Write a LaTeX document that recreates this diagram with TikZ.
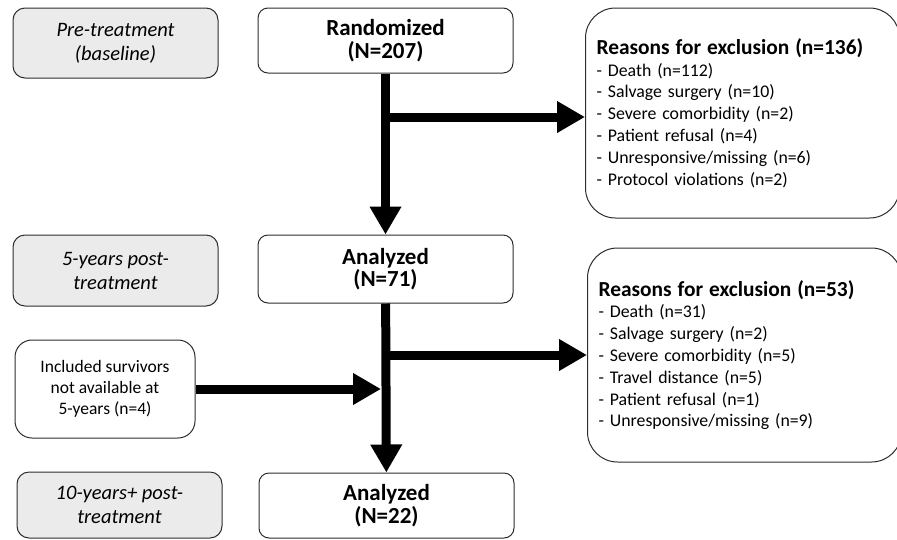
\documentclass[tikz,border=0pt]{standalone}
\usepackage{fontspec}
\setmainfont{Carlito}
\usetikzlibrary{arrows.meta}
\definecolor{phasegray}{RGB}{235,235,235}
\definecolor{boxline}{RGB}{45,45,45}

\begin{document}
\begin{tikzpicture}[
    x=1pt, y=-1pt,
    box/.style={draw=boxline, line width=1pt, align=center, inner sep=0pt},
    phase/.style={box, fill=phasegray, rounded corners=12pt, minimum width=205pt,
        font=\itshape\fontsize{20.5}{24}\selectfont},
    stage/.style={box, fill=white, rounded corners=10pt, minimum width=255pt,
        font=\bfseries\fontsize{23}{22.5}\selectfont},
    reasons/.style={box, rounded corners=30pt, align=left, text width=292pt,
        inner xsep=11pt, font=\fontsize{17.8}{21.8}\selectfont},
    flow/.style={line width=9pt, -{Triangle[width=30pt, length=28pt]}}
]

    \clip (0,0) rectangle (897,539);

    % Phases (left column)
    \node[phase, minimum height=70pt] (pre)  at (115.5, 43)  {Pre-treatment\\(baseline)};
    \node[phase, minimum height=71pt] (five) at (115.5, 270.5) {5-years post-\\treatment};
    \node[phase, minimum height=66pt] (ten)  at (119.5, 505) {10-years+ post-\\treatment};

    % Stages (middle column)
    \node[stage, minimum height=65pt] (rand) at (385.5, 40.5) {Randomized\\(N=207)};
    \node[stage, minimum height=68pt] (ana1) at (385.5, 269)  {Analyzed\\(N=71)};
    \node[stage, minimum height=65pt] (ana2) at (386.5, 505.5) {Analyzed\\(N=22)};

    % Extra survivors
    \node[box, rounded corners=17pt, minimum width=180pt, minimum height=98pt,
          font=\fontsize{17.5}{21}\selectfont] (surv) at (105, 389)
          {Included survivors\\not available at\\5-years (n=4)};

    % Exclusions (right column)
    \node[reasons, minimum height=210pt, anchor=west] (excl1) at (585, 113) {%
        {\bfseries\fontsize{21.4}{23}\selectfont Reasons for exclusion (n=136)}\\
        - Death (n=112)\\
        - Salvage surgery (n=10)\\
        - Severe comorbidity (n=2)\\
        - Patient refusal (n=4)\\
        - Unresponsive/missing (n=6)\\
        - Protocol violations (n=2)};
    \node[reasons, minimum height=214pt, anchor=west] (excl2) at (587, 355) {%
        {\bfseries\fontsize{21.4}{23}\selectfont Reasons for exclusion (n=53)}\\
        - Death (n=31)\\
        - Salvage surgery (n=2)\\
        - Severe comorbidity (n=5)\\
        - Travel distance (n=5)\\
        - Patient refusal (n=1)\\
        - Unresponsive/missing (n=9)};

    % Split points
    \coordinate (split1) at (385.5, 117);
    \coordinate (split2) at (385.5, 355);

    % Flow
    \draw[flow] (rand) -- (ana1);
    \draw[flow] (split1) -- (split1 -| excl1.west);
    \draw[flow] (ana1) -- (ana2);
    \draw[flow] (split2) -- (excl2.west);
    \draw[flow, shorten >=4.5pt] (surv.east) -- (surv.east -| ana1.south);

\end{tikzpicture}
\end{document}
